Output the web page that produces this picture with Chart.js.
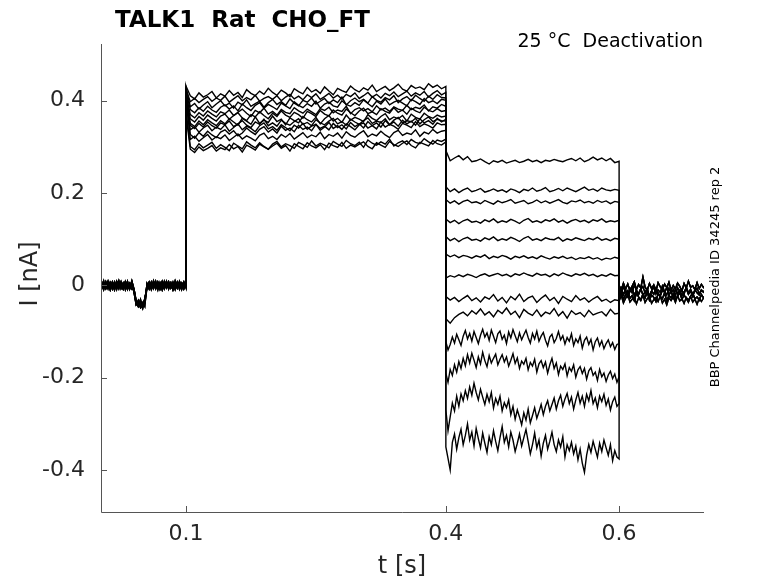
<!DOCTYPE html>
<html>
<head>
<meta charset="utf-8">
<script src="https://cdn.jsdelivr.net/npm/chart.js@4.4.1/dist/chart.umd.min.js"></script>
<style>
html, body { margin: 0; padding: 0; background: #fff; }
</style>
</head>
<body>
<canvas id="traces" width="778" height="583"></canvas>
<script>
// tick positions
const xTicks = [0.1, 0.4, 0.6];
const yTicks = [-0.4, -0.2, 0, 0.2, 0.4];

// all currents below in pA, converted to nA when plotted
// holding period 0 .. 0.1 s, sampled every 2.5 ms (5 overlapping sweeps)
const holding = [
    [4, -8, 6, -3, 9, -6, 2, -10, 7, -4, 8, -7, 3, -9, 5, -2, -12, -38, -45, -34, -42, -30, -3, 7, -6, 10, -4, 5, -9, 3, -7, 8, -2, 6, -10, 4, -5, 9, -3, 7, -1],
    [-6, 5, -9, 8, -3, 6, -8, 4, -5, 10, -7, 3, -4, 9, -8, 6, -15, -42, -36, -48, -40, -35, 2, -8, 5, -3, 9, -7, 4, -10, 6, -2, 8, -6, 3, -9, 7, -4, 5, -8, 3],
    [8, -3, 4, -7, 2, -10, 6, -5, 9, -2, 4, -8, 7, -3, -6, 10, -8, -33, -46, -39, -50, -28, -5, 6, -9, 3, -4, 8, -2, 9, -7, 4, -6, 2, -8, 10, -3, 6, -9, 4, -4],
    [-3, 9, -5, 2, -8, 7, -2, 8, -9, 5, -1, 6, -10, 4, -4, 7, -10, -40, -32, -44, -37, -46, 5, -2, 8, -7, 4, -10, 7, -3, 9, -6, 3, -4, 8, -2, 5, -9, 2, -6, 6],
    [2, -5, 10, -7, 5, -3, 8, -6, 3, -8, 6, -2, 9, -5, 2, -9, -8, -36, -43, -30, -47, -39, -6, 4, -3, 7, -8, 2, -5, 6, -3, 9, -8, 5, -6, 2, -7, 4, -2, 8, -5]
];

// activating step 0.1 .. 0.4 s, every 5 ms
const activation = [
    [425, 398, 405, 396, 403, 409, 399, 406, 401, 410, 397, 404, 411, 400, 407, 402, 412, 399, 405, 409, 403, 411, 400, 408, 414, 404, 410, 402, 413, 407, 415, 403, 409, 416, 406, 412, 404, 414, 409, 417, 405, 411, 418, 408, 414, 406, 416, 411, 419, 409, 415, 421, 410, 417, 412, 420, 408, 416, 422, 413, 418],
    [410, 316, 323, 312, 320, 327, 315, 322, 318, 326, 314, 321, 328, 317, 324, 319, 313, 325, 330, 318, 323, 316, 327, 321, 329, 317, 324, 331, 320, 326, 322, 332, 318, 327, 323, 330, 319, 333, 325, 321, 329, 335, 322, 328, 324, 334, 326, 320, 331, 336, 325, 330, 327, 337, 323, 332, 328, 338, 330, 334, 336],
    [415, 370, 363, 374, 367, 378, 371, 365, 376, 372, 380, 368, 375, 382, 373, 366, 379, 374, 384, 371, 377, 369, 381, 375, 372, 385, 378, 373, 382, 376, 370, 383, 379, 386, 374, 380, 377, 388, 372, 381, 385, 378, 383, 376, 389, 380, 384, 377, 387, 382, 379, 390, 381, 386, 383, 391, 378, 387, 384, 392, 388],
    [395, 337, 344, 332, 341, 347, 335, 343, 338, 348, 334, 342, 350, 337, 345, 340, 333, 346, 352, 339, 344, 336, 348, 342, 335, 347, 341, 351, 338, 345, 349, 336, 343, 353, 340, 346, 338, 350, 344, 337, 348, 352, 341, 346, 339, 354, 343, 349, 345, 338, 351, 347, 342, 355, 344, 350, 346, 341, 352, 348, 349],
    [380, 301, 294, 307, 298, 304, 310, 297, 305, 299, 292, 308, 302, 296, 311, 304, 298, 309, 301, 295, 306, 312, 300, 307, 303, 297, 310, 305, 299, 313, 302, 308, 304, 298, 312, 306, 301, 314, 307, 303, 310, 299, 315, 308, 304, 311, 306, 317, 302, 309, 313, 305, 316, 310, 307, 318, 311, 306, 315, 312, 317],
    [430, 387, 394, 382, 391, 398, 385, 393, 400, 389, 395, 384, 397, 391, 402, 388, 394, 399, 386, 396, 403, 392, 398, 390, 404, 395, 389, 401, 397, 406, 393, 399, 405, 394, 402, 396, 408, 391, 400, 406, 398, 403, 395, 409, 401, 397, 407, 402, 411, 396, 404, 409, 400, 412, 405, 399, 410, 403, 413, 407, 406],
    [405, 351, 344, 356, 348, 359, 352, 346, 357, 350, 361, 354, 347, 362, 356, 349, 365, 351, 358, 353, 367, 355, 360, 348, 363, 357, 352, 366, 359, 354, 364, 350, 361, 368, 356, 362, 353, 369, 358, 364, 360, 355, 370, 362, 357, 366, 372, 359, 365, 361, 368, 356, 371, 364, 360, 373, 366, 362, 369, 365, 367],
    [400, 327, 319, 331, 323, 334, 326, 320, 332, 337, 328, 335, 324, 330, 341, 333, 327, 338, 344, 332, 339, 330, 345, 336, 341, 333, 347, 338, 343, 335, 349, 340, 345, 337, 351, 342, 348, 339, 353, 344, 350, 341, 355, 346, 352, 343, 357, 348, 354, 345, 358, 350, 356, 347, 361, 352, 357, 349, 362, 354, 360],
    [420, 381, 374, 385, 377, 388, 380, 375, 386, 391, 382, 389, 378, 393, 385, 379, 390, 396, 384, 392, 387, 381, 395, 389, 383, 398, 390, 385, 394, 388, 399, 384, 393, 397, 389, 386, 400, 392, 388, 396, 390, 402, 394, 387, 399, 393, 404, 391, 397, 401, 395, 389, 403, 398, 392, 405, 396, 400, 394, 403, 401],
    [410, 361, 354, 366, 358, 369, 362, 356, 367, 371, 360, 368, 374, 363, 357, 370, 365, 376, 368, 361, 373, 366, 378, 369, 364, 375, 370, 362, 377, 372, 366, 379, 371, 367, 380, 373, 369, 382, 374, 368, 378, 384, 372, 376, 370, 383, 377, 373, 385, 375, 380, 371, 384, 378, 374, 386, 379, 376, 383, 377, 379],
    [370, 295, 288, 300, 292, 297, 303, 291, 298, 294, 305, 296, 301, 289, 304, 299, 293, 306, 300, 295, 302, 308, 297, 303, 291, 307, 301, 296, 309, 302, 298, 305, 294, 308, 303, 299, 310, 297, 304, 300, 306, 311, 301, 296, 309, 304, 299, 312, 305, 301, 308, 313, 303, 298, 310, 306, 302, 314, 307, 304, 311],
    [400, 347, 340, 351, 343, 354, 346, 341, 352, 348, 356, 344, 350, 357, 347, 342, 354, 349, 360, 346, 352, 345, 358, 351, 347, 355, 361, 349, 353, 346, 359, 352, 348, 356, 362, 350, 355, 347, 360, 354, 349, 357, 363, 351, 356, 353, 361, 348, 358, 364, 352, 357, 354, 362, 350, 359, 365, 355, 360, 357, 356],
    [432, 411, 404, 417, 408, 413, 420, 406, 415, 410, 422, 412, 418, 407, 424, 416, 411, 421, 414, 427, 418, 412, 423, 417, 409, 426, 420, 415, 429, 419, 424, 416, 430, 421, 413, 427, 422, 418, 432, 424, 419, 428, 423, 434, 420, 426, 431, 422, 428, 436, 425, 421, 433, 427, 430, 424, 437, 429, 434, 426, 431]
];

// deactivating steps 0.4 .. 0.6 s, evenly sampled (5 ms, the noisier bottom sweeps 2.5 ms)
const deactivation = [
    [292, 270, 276, 281, 272, 279, 268, 270, 274, 268, 263, 270, 267, 271, 265, 268, 271, 266, 269, 273, 268, 271, 266, 271, 269, 273, 270, 268, 272, 275, 270, 276, 268, 272, 278, 272, 276, 270, 275, 266, 269],
    [214, 203, 209, 201, 207, 211, 203, 206, 210, 202, 205, 209, 204, 207, 202, 209, 206, 201, 208, 205, 211, 204, 207, 212, 203, 206, 210, 205, 211, 207, 203, 208, 213, 206, 209, 204, 211, 207, 205, 208, 206],
    [186, 178, 183, 176, 182, 185, 179, 181, 177, 184, 180, 176, 183, 179, 182, 186, 178, 181, 184, 177, 180, 185, 179, 183, 178, 182, 186, 180, 177, 183, 181, 185, 179, 182, 178, 184, 180, 183, 177, 182, 180],
    [144, 136, 141, 134, 140, 143, 137, 139, 135, 142, 138, 144, 136, 140, 137, 143, 139, 134, 141, 145, 137, 140, 136, 142, 139, 144, 137, 141, 135, 140, 143, 138, 141, 136, 142, 139, 144, 137, 140, 138, 141],
    [106, 97, 102, 95, 101, 104, 98, 100, 96, 103, 99, 105, 97, 101, 98, 104, 100, 95, 102, 106, 98, 101, 97, 103, 100, 99, 104, 96, 101, 98, 103, 100, 97, 102, 99, 104, 98, 101, 97, 102, 100],
    [68, 62, 66, 60, 65, 63, 59, 64, 61, 66, 58, 63, 60, 65, 62, 57, 63, 60, 64, 59, 62, 58, 64, 60, 57, 62, 59, 63, 58, 61, 56, 60, 58, 62, 57, 60, 55, 59, 57, 61, 58],
    [16, 21, 18, 23, 19, 24, 21, 17, 22, 25, 20, 23, 26, 21, 24, 19, 25, 22, 27, 23, 20, 26, 22, 24, 19, 25, 21, 27, 23, 20, 25, 22, 26, 21, 24, 19, 23, 20, 25, 21, 22],
    [-24, -32, -26, -35, -28, -22, -33, -27, -36, -25, -30, -20, -34, -26, -38, -24, -31, -19, -35, -27, -23, -37, -28, -21, -33, -26, -39, -24, -30, -35, -22, -32, -27, -36, -29, -24, -34, -30, -37, -31, -33],
    [-72, -82, -70, -63, -58, -66, -55, -62, -51, -64, -57, -68, -54, -61, -49, -63, -56, -70, -52, -60, -65, -53, -67, -58, -62, -50, -66, -57, -71, -55, -63, -59, -68, -54, -64, -60, -57, -66, -52, -62, -60],
    [-122, -140, -128, -112, -125, -106, -118, -130, -110, -98, -116, -104, -121, -100, -113, -126, -108, -95, -112, -103, -119, -97, -110, -124, -105, -99, -117, -108, -126, -101, -114, -96, -109, -122, -103, -118, -107, -97, -113, -125, -104, -116, -99, -121, -110, -102, -119, -131, -112, -106, -124, -115, -100, -118, -109, -127, -113, -121, -105, -130, -116, -124, -110, -136, -119, -112, -128, -117, -140, -122, -114, -131, -120, -137, -126, -118, -133, -124, -139, -128, -126],
    [-190, -210, -182, -195, -172, -188, -165, -180, -158, -174, -150, -168, -147, -162, -178, -155, -170, -145, -163, -176, -152, -168, -158, -149, -172, -160, -150, -166, -155, -175, -162, -148, -169, -157, -180, -164, -171, -158, -183, -167, -175, -160, -188, -170, -163, -178, -166, -190, -172, -158, -180, -168, -193, -175, -182, -170, -196, -178, -186, -172, -199, -183, -176, -191, -180, -203, -185, -178, -195, -188, -206, -182, -198, -190, -208, -194, -186, -202, -192, -210, -198],
    [-270, -315, -285, -255, -272, -240, -262, -235, -250, -228, -245, -220, -238, -212, -232, -248, -225, -242, -258, -236, -252, -232, -266, -245, -258, -240, -272, -254, -265, -248, -280, -262, -290, -270, -285, -302, -276, -292, -268, -298, -282, -265, -288, -274, -258, -280, -262, -250, -272, -258, -244, -268, -250, -238, -262, -246, -234, -256, -242, -268, -248, -232, -255, -240, -262, -236, -250, -228, -256, -244, -265, -240, -252, -236, -260, -246, -270, -252, -242, -262, -256],
    [-350, -375, -400, -340, -322, -355, -330, -312, -345, -325, -300, -335, -318, -348, -310, -332, -352, -320, -342, -362, -328, -345, -315, -338, -358, -330, -306, -340, -325, -350, -318, -335, -360, -342, -322, -348, -330, -312, -338, -365, -345, -320, -352, -335, -370, -342, -325, -355, -338, -318, -345, -360, -335, -350, -328, -372, -345, -358, -340, -365, -348, -378, -355, -385, -405, -368, -345, -362, -338, -355, -372, -342, -360, -335, -352, -368, -345, -380, -358, -372, -376]
];

// tail 0.6 .. 0.7 s, every 2.5 ms (5 overlapping sweeps)
const tail = [
    [0, -10, 5, -8, 3, -12, -2, 8, -9, 2, -6, 18, -4, -11, 4, -7, 1, -13, 6, -3, -9, 3, -5, 7, -10, 0, -8, 5, -2, -12, 4, -6, 9, -4, -1, -9, 6, -7, 2, -5, -3],
    [-16, -6, -20, -10, -24, -13, -4, -22, -11, -18, -7, -21, -14, -9, -25, -12, -19, -6, -17, -23, -10, -15, -5, -20, -13, -26, -8, -18, -11, -22, -14, -7, -19, -12, -24, -9, -16, -21, -10, -15, -12],
    [-26, -15, -30, -20, -12, -28, -22, -33, -17, -25, -31, -19, -27, -14, -32, -21, -26, -35, -18, -24, -29, -16, -34, -22, -27, -19, -31, -24, -15, -30, -21, -28, -36, -23, -17, -29, -25, -32, -20, -27, -24],
    [-34, -22, -38, -28, -20, -36, -30, -25, -40, -27, -33, -21, -37, -29, -24, -39, -31, -26, -35, -23, -38, -30, -42, -27, -33, -25, -37, -22, -34, -29, -39, -26, -32, -24, -36, -30, -41, -28, -35, -27, -31],
    [-8, -18, -3, -14, -22, -6, -16, 1, -11, -20, -9, -2, -17, -7, -24, -12, -4, -19, -10, -15, -1, -13, -21, -6, -17, -9, -23, -5, -14, -11, -19, -3, -16, -8, -20, -12, -6, -18, -10, -14, -9]
];

// evenly spaced sample times between t0 and t1
function times(t0, t1, n) {
    const dt = (t1 - t0) / (n - 1);
    return Array.from({length: n}, (_, i) => +(t0 + i * dt).toFixed(5));
}

function sweep(k) {
    const pts = [];
    const add = (t0, t1, vs) => times(t0, t1, vs.length).forEach((t, i) => pts.push({x: t, y: vs[i] / 1000}));
    add(0, 0.1, holding[k % holding.length]);
    add(0.1, 0.4, activation[k]);
    add(0.4, 0.6, deactivation[k]);
    add(0.6, 0.7, tail[k % tail.length]);
    return pts;
}

const datasets = activation.map((_, k) => ({
    data: sweep(k),
    borderColor: '#000',
    borderWidth: 1.4,
    pointRadius: 0,
    fill: false,
    tension: 0
}));

const FONT = "'DejaVu Sans', sans-serif";

const decorations = {
    id: 'decorations',
    afterDraw(chart) {
        const {ctx, chartArea: a, scales: {x, y}} = chart;
        ctx.save();
        // axes with inward ticks
        ctx.strokeStyle = '#555';
        ctx.lineWidth = 1;
        ctx.beginPath();
        ctx.moveTo(a.left + 0.5, a.top);
        ctx.lineTo(a.left + 0.5, a.bottom + 0.5);
        ctx.lineTo(a.right, a.bottom + 0.5);
        x.ticks.forEach(t => {
            const px = Math.round(x.getPixelForValue(t.value)) + 0.5;
            ctx.moveTo(px, a.bottom);
            ctx.lineTo(px, a.bottom - 6);
        });
        y.ticks.forEach(t => {
            const py = Math.round(y.getPixelForValue(t.value)) + 0.5;
            ctx.moveTo(a.left, py);
            ctx.lineTo(a.left + 6, py);
        });
        ctx.stroke();

        // texts
        ctx.fillStyle = '#000';
        ctx.font = 'bold 23px ' + FONT;
        ctx.textAlign = 'left';
        ctx.textBaseline = 'alphabetic';
        ctx.fillText('TALK1  Rat  CHO_FT', 115, 27);

        ctx.font = '19px ' + FONT;
        ctx.textAlign = 'right';
        ctx.fillText('25 °C  Deactivation', 703, 47);

        ctx.fillStyle = '#262626';
        ctx.font = '24px ' + FONT;
        ctx.textAlign = 'center';
        ctx.textBaseline = 'middle';
        ctx.fillText('t [s]', 402, 567);

        ctx.save();
        ctx.translate(31, 274);
        ctx.rotate(-Math.PI / 2);
        ctx.fillText('I [nA]', 0, 0);
        ctx.restore();

        ctx.fillStyle = '#000';
        ctx.font = '13px ' + FONT;
        ctx.save();
        ctx.translate(716, 277);
        ctx.rotate(-Math.PI / 2);
        ctx.fillText('BBP Channelpedia ID 34245 rep 2', 0, 0);
        ctx.restore();

        ctx.restore();
    }
};

new Chart(document.getElementById('traces'), {
    type: 'line',
    data: { datasets: datasets },
    options: {
        responsive: false,
        animation: false,
        events: [],
        layout: { padding: { top: 44, right: 74, bottom: 0, left: 0 } },
        plugins: { legend: { display: false }, tooltip: { enabled: false } },
        scales: {
            x: {
                type: 'linear',
                min: 0.0019,
                max: 0.698,
                afterBuildTicks: s => { s.ticks = xTicks.map(v => ({value: v})); },
                afterFit: s => { s.height = 71; },
                grid: { display: false, drawTicks: false },
                border: { display: false },
                ticks: { padding: 9, color: '#262626', font: { family: FONT, size: 22 }, maxRotation: 0 }
            },
            y: {
                type: 'linear',
                min: -0.491,
                max: 0.523,
                afterBuildTicks: s => { s.ticks = yTicks.map(v => ({value: v})); },
                afterFit: s => { s.width = 101; },
                grid: { display: false, drawTicks: false },
                border: { display: false },
                ticks: { padding: 16, color: '#262626', font: { family: FONT, size: 22 } }
            }
        }
    },
    plugins: [decorations]
});
</script>
</body>
</html>
